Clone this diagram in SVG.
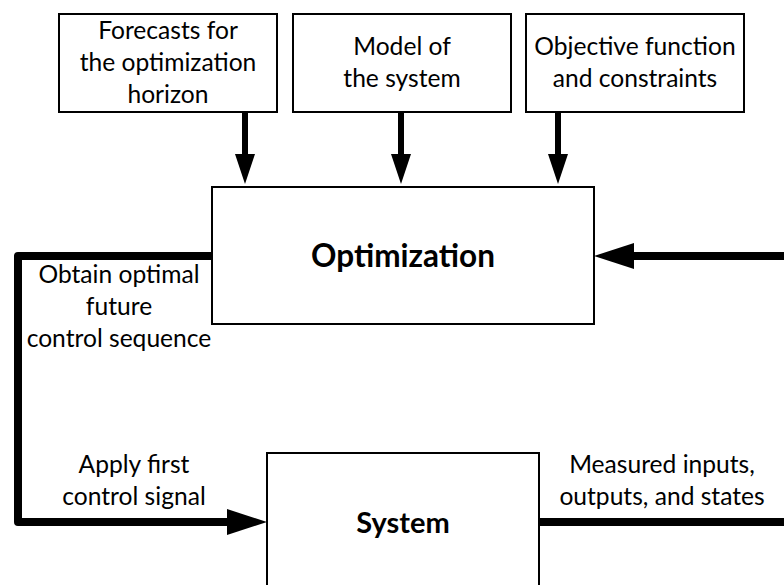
<svg xmlns="http://www.w3.org/2000/svg" width="784" height="585" viewBox="0 0 784 585">
<style>
.box{fill:#fff;stroke:#000;stroke-width:2}
.t{font-family:Lato,"Liberation Sans",sans-serif;font-size:24.6px;fill:#000;text-anchor:middle}
.b{font-family:Lato,"Liberation Sans",sans-serif;font-weight:bold;fill:#000;text-anchor:middle}
.thin{fill:none;stroke:#000;stroke-width:6}
.thick{fill:none;stroke:#000;stroke-width:8;stroke-linejoin:round}
</style>
<defs>
<marker id="ah" markerUnits="userSpaceOnUse" markerWidth="30" markerHeight="20" refX="0" refY="10" orient="auto" viewBox="0 0 30 20">
<path d="M0,0 L30,10 L0,20 z" fill="#000"/>
</marker>
<marker id="ahb" markerUnits="userSpaceOnUse" markerWidth="40" markerHeight="26" refX="0" refY="13" orient="auto" viewBox="0 0 40 26">
<path d="M0,0 L40,13 L0,26 z" fill="#000"/>
</marker>
</defs>
<g id="connectors">
<path class="thin" d="M245,112 V154" marker-end="url(#ah)"/>
<path class="thin" d="M401,112 V154" marker-end="url(#ah)"/>
<path class="thin" d="M558,112 V154" marker-end="url(#ah)"/>
<path class="thick" d="M212,256 H18 V522 H227" marker-end="url(#ahb)"/>
<path class="thick" d="M539,522 H790"/>
<path class="thick" d="M790,256 H634" marker-end="url(#ahb)"/>
</g>
<g id="forecasts">
<rect class="box" x="59" y="14" width="218" height="98"/>
<text class="t" x="168" y="39">Forecasts for</text>
<text class="t" x="168" y="71">the optimization</text>
<text class="t" x="168" y="103">horizon</text>
</g>
<g id="model">
<rect class="box" x="293" y="14" width="218" height="98"/>
<text class="t" x="402" y="55">Model of</text>
<text class="t" x="402" y="87">the system</text>
</g>
<g id="objective">
<rect class="box" x="526" y="14" width="218" height="98"/>
<text class="t" x="635" y="55">Objective function</text>
<text class="t" x="635" y="87">and constraints</text>
</g>
<g id="optimization">
<rect class="box" x="212" y="187" width="382" height="137"/>
<text class="b" x="403" y="267" font-size="31.5">Optimization</text>
</g>
<g id="system">
<rect class="box" x="267" y="453" width="272" height="140"/>
<text class="b" x="403" y="533" font-size="29">System</text>
</g>
<g id="labels">
<text class="t" x="119" y="283">Obtain optimal</text>
<text class="t" x="119" y="315">future</text>
<text class="t" x="119" y="347">control sequence</text>
<text class="t" x="134" y="473">Apply first</text>
<text class="t" x="134" y="505">control signal</text>
<text class="t" x="662" y="473">Measured inputs,</text>
<text class="t" x="662" y="505">outputs, and states</text>
</g>
</svg>
